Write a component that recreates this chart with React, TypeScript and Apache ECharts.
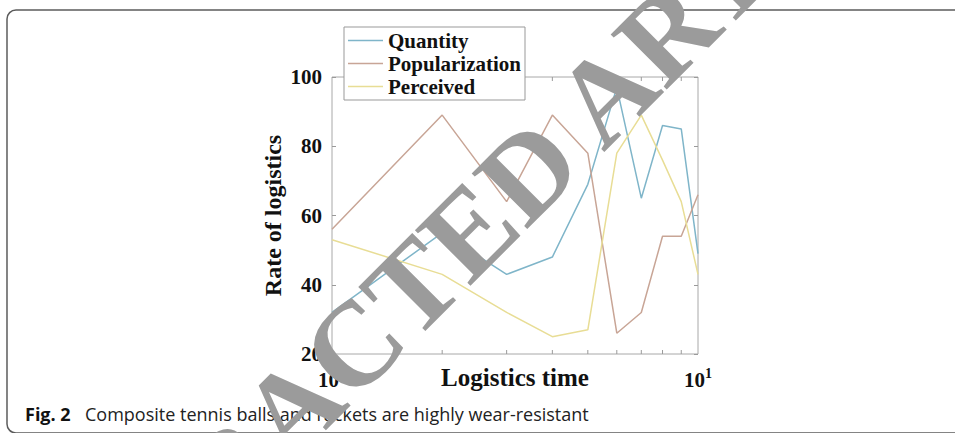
import React, { useEffect, useRef } from "react";
import * as echarts from "echarts";

const xValues = [1, 2, 3, 4, 5, 6, 7, 8, 9, 10];
const seriesNames = ["Quantity", "Popularization", "Perceived"];
const quantity = [32, 55, 43, 48, 69, 97, 65, 86, 85, 49];
const popularization = [56, 89, 64, 89, 78, 26, 32, 54, 54, 66];
const perceived = [53, 43, 32, 25, 27, 78, 89, 76, 64, 43];
const seriesColors = ["#7fb5c9", "#c8a596", "#e8dd95"];
const minorTicks = [2, 3, 4, 5, 6, 7, 8, 9];
const yMin = 20;
const yMax = 100;
const yStep = 20;
const xMin = 1;
const xMax = 10;
const xTitle = "Logistics time";
const yTitle = "Rate of logistics";
const captionBold = "Fig. 2";
const captionText = "Composite tennis balls and rackets are highly wear-resistant";
const watermark = "RETRACTED ARTICLE";

const SERIF = "'Liberation Serif', 'Times New Roman', serif";

export default function App() {
  const ref = useRef<HTMLDivElement>(null);
  useEffect(() => {
    if (!ref.current) return;
    const chart = echarts.init(ref.current, null, { renderer: "svg" });
    const values = [quantity, popularization, perceived];
    const lineSeries = seriesNames.map((name, i) => ({
      name,
      type: "line",
      data: xValues.map((x, j) => [x, values[i][j]]),
      symbol: "none",
      showSymbol: false,
      lineStyle: { width: 1.5, color: seriesColors[i] },
      itemStyle: { color: seriesColors[i] },
      z: 2,
    }));
    const tickStyle = { stroke: "#9a9a9a", lineWidth: 1 };
    chart.setOption({
      animation: false,
      grid: {
        left: 332,
        right: 257,
        top: 77,
        bottom: 79,
        show: true,
        borderColor: "#a8a8a8",
        borderWidth: 1,
        backgroundColor: "transparent",
        outerBoundsMode: "none",
      },
      legend: {
        data: seriesNames,
        orient: "vertical",
        left: 344,
        top: 27,
        padding: [3, 4, 3, 4],
        itemGap: 2,
        icon: "rect",
        itemWidth: 35,
        itemHeight: 1.5,
        backgroundColor: "#fff",
        borderColor: "#999",
        borderWidth: 1,
        borderRadius: 0,
        textStyle: {
          fontFamily: SERIF,
          fontWeight: "bold",
          fontSize: 21,
          color: "#111",
          lineHeight: 21,
        },
      },
      xAxis: {
        type: "log",
        logBase: 10,
        min: xMin,
        max: xMax,
        name: xTitle,
        nameLocation: "middle",
        nameGap: 11,
        nameMoveOverlap: false,
        nameTextStyle: {
          fontFamily: SERIF,
          fontWeight: "bold",
          fontSize: 25,
          color: "#111",
          verticalAlign: "top",
        },
        axisLine: { show: false },
        axisTick: { show: false },
        splitLine: { show: false },
        axisLabel: {
          margin: 12,
          formatter: (v: number) => `{a|10}{b|${Math.round(Math.log10(v))}}`,
          rich: {
            a: { fontFamily: SERIF, fontWeight: "bold", fontSize: 21, color: "#111", lineHeight: 28 },
            b: { fontFamily: SERIF, fontWeight: "bold", fontSize: 14, color: "#111", lineHeight: 10, verticalAlign: "top" },
          },
        },
      },
      yAxis: [
        {
          type: "value",
          min: yMin,
          max: yMax,
          interval: yStep,
          name: yTitle,
          nameLocation: "middle",
          nameGap: 47,
          nameMoveOverlap: false,
          nameTextStyle: {
            fontFamily: SERIF,
            fontWeight: "bold",
            fontSize: 24,
            color: "#111",
          },
          axisLine: { show: false },
          axisTick: { show: true, inside: true, length: 4, lineStyle: { color: "#9a9a9a" } },
          splitLine: { show: false },
          axisLabel: {
            margin: 10,
            fontFamily: SERIF,
            fontWeight: "bold",
            fontSize: 21,
            color: "#111",
          },
        },
        {
          type: "value",
          position: "right",
          min: yMin,
          max: yMax,
          interval: yStep,
          axisLine: { show: false },
          axisTick: { show: true, inside: true, length: 4, lineStyle: { color: "#9a9a9a" } },
          splitLine: { show: false },
          axisLabel: { show: false },
        },
      ],
      series: [
        ...lineSeries,
        {
          type: "custom",
          name: "minorTicks",
          silent: true,
          clip: false,
          z: 3,
          data: minorTicks.map((v) => [v, yMin]),
          encode: { x: 0, y: 1 },
          renderItem: (_params: any, api: any) => {
            const v = api.value(0);
            const b = api.coord([v, yMin]);
            const t = api.coord([v, yMax]);
            return {
              type: "group",
              children: [
                { type: "line", shape: { x1: b[0], y1: b[1], x2: b[0], y2: b[1] - 4 }, style: tickStyle },
                { type: "line", shape: { x1: t[0], y1: t[1], x2: t[0], y2: t[1] + 4 }, style: tickStyle },
              ],
            };
          },
        },
      ],
      graphic: [
        {
          type: "rect",
          z: 1,
          silent: true,
          shape: { x: 7, y: 10, width: 990, height: 423, r: 9 },
          style: { fill: "none", stroke: "#5c5c5c", lineWidth: 1.5 },
        },
        {
          type: "text",
          z: 1,
          x: 25,
          y: 414,
          style: {
            text: captionBold,
            fontFamily: "'Open Sans', sans-serif",
            fontWeight: "bold",
            fontSize: 18,
            fill: "#111",
            verticalAlign: "middle",
            textVerticalAlign: "middle",
          },
        },
        {
          type: "text",
          z: 1,
          x: 85,
          y: 414,
          style: {
            text: captionText,
            fontFamily: "'Open Sans', sans-serif",
            fontSize: 18,
            fill: "#222",
            verticalAlign: "middle",
            textVerticalAlign: "middle",
          },
        },
        {
          type: "text",
          z: 100,
          silent: true,
          x: 492,
          y: 207,
          rotation: Math.PI / 4,
          style: {
            text: watermark,
            fontFamily: SERIF,
            fontWeight: "bold",
            fontSize: 120,
            fill: "#9b9b9b",
            align: "center",
            verticalAlign: "middle",
            textAlign: "center",
            textVerticalAlign: "middle",
          },
        },
      ],
    });
    return () => chart.dispose();
  }, []);
  return (
    <div
      ref={ref}
      style={{ position: "fixed", left: 0, top: 0, width: 955, height: 433, background: "#fff" }}
    />
  );
}
